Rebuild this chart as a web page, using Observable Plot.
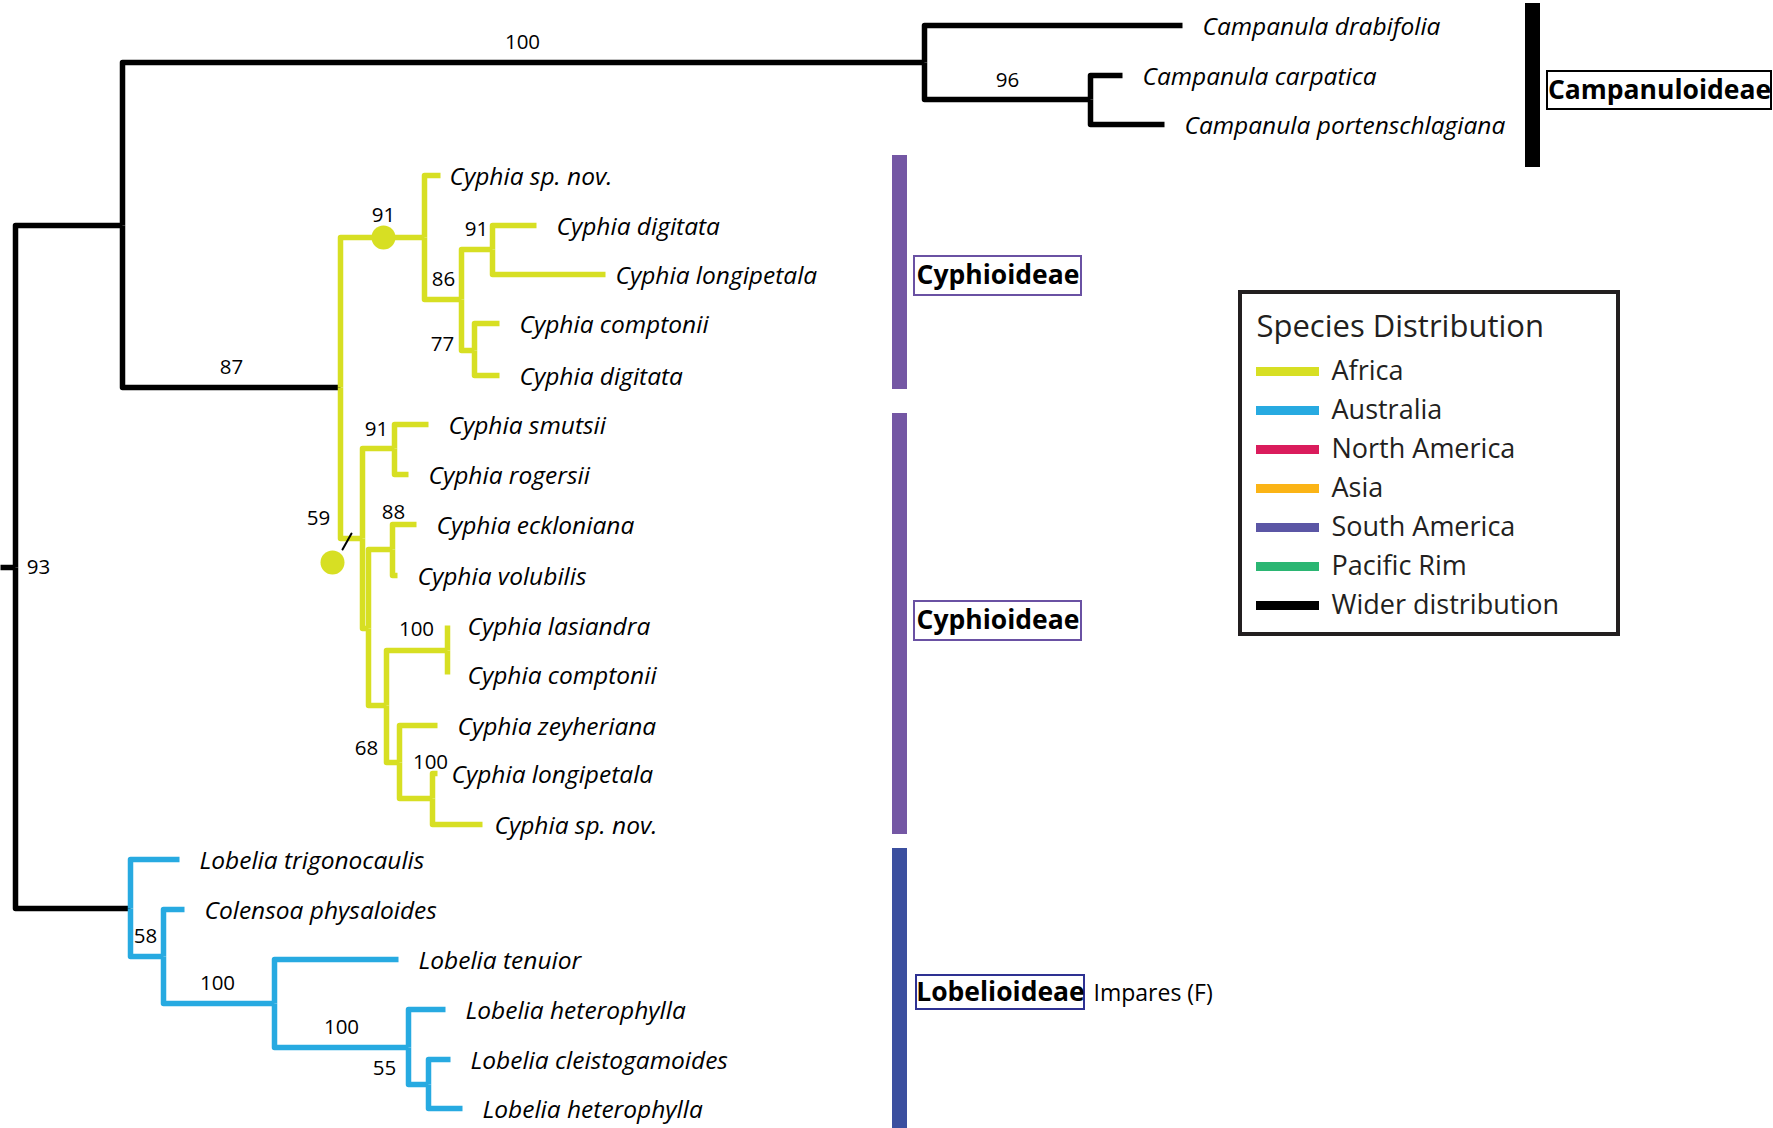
<!DOCTYPE html>
<html>
<head>
<meta charset="utf-8">
<script src="https://cdn.jsdelivr.net/npm/d3@7"></script>
<script src="https://cdn.jsdelivr.net/npm/@observablehq/plot@0.6"></script>
<style>
  html, body { margin: 0; padding: 0; background: #fff; }
  #chart svg { display: block; }
</style>
</head>
<body>
<div id="chart"></div>
<script>
// ---------- DATA ----------
// Distribution categories (legend) and their colours
const regions = ["Africa", "Australia", "North America", "Asia", "South America", "Pacific Rim", "Wider distribution"];
const regionColors = ["#d7df23", "#27aae1", "#da1c5c", "#fbb416", "#5b56a5", "#2bb673", "#000000"];

// Tree: [id, parent, depth, row, distribution of the branch leading to it, taxon name]
const tree = [
  ["stem", null, 0, 567, "Wider distribution", null],
  ["root", "stem", 15, 567, "Wider distribution", null],
  ["A", "root", 122, 225, "Wider distribution", null],
  ["CAMP", "A", 924, 62, "Wider distribution", null],
  ["t1", "CAMP", 1182, 25, "Wider distribution", "Campanula drabifolia"],
  ["N96", "CAMP", 1090, 99, "Wider distribution", null],
  ["t2", "N96", 1122, 75, "Wider distribution", "Campanula carpatica"],
  ["t3", "N96", 1164, 124, "Wider distribution", "Campanula portenschlagiana"],
  ["CYP", "A", 340, 387, "Wider distribution", null],
  ["N91a", "CYP", 424, 237, "Africa", null],
  ["t4", "N91a", 440, 175, "Africa", "Cyphia sp. nov."],
  ["N86", "N91a", 461, 299, "Africa", null],
  ["N91b", "N86", 492, 249, "Africa", null],
  ["t5", "N91b", 536, 225, "Africa", "Cyphia digitata"],
  ["t6", "N91b", 605, 274, "Africa", "Cyphia longipetala"],
  ["N77", "N86", 474, 350, "Africa", null],
  ["t7", "N77", 499, 323, "Africa", "Cyphia comptonii"],
  ["t8", "N77", 499, 375, "Africa", "Cyphia digitata"],
  ["N59", "CYP", 362, 538, "Africa", null],
  ["N91c", "N59", 394, 448, "Africa", null],
  ["t9", "N91c", 428, 424, "Africa", "Cyphia smutsii"],
  ["t10", "N91c", 408, 474, "Africa", "Cyphia rogersii"],
  ["NB", "N59", 368, 628, "Africa", null],
  ["N88", "NB", 392, 549, "Africa", null],
  ["t11", "N88", 416, 524, "Africa", "Cyphia eckloniana"],
  ["t12", "N88", 397, 575, "Africa", "Cyphia volubilis"],
  ["N68", "NB", 386, 705, "Africa", null],
  ["N100a", "N68", 447, 650, "Africa", null],
  ["t13", "N100a", 447, 625, "Africa", "Cyphia lasiandra"],
  ["t14", "N100a", 447, 674, "Africa", "Cyphia comptonii"],
  ["NZ", "N68", 399, 762, "Africa", null],
  ["t15", "NZ", 437, 725, "Africa", "Cyphia zeyheriana"],
  ["N100b", "NZ", 432, 798, "Africa", null],
  ["t16", "N100b", 437, 773, "Africa", "Cyphia longipetala"],
  ["t17", "N100b", 482, 824, "Africa", "Cyphia sp. nov."],
  ["LOB", "root", 130, 908, "Wider distribution", null],
  ["t18", "LOB", 179, 859, "Australia", "Lobelia trigonocaulis"],
  ["N58", "LOB", 163, 956, "Australia", null],
  ["t19", "N58", 184, 909, "Australia", "Colensoa physaloides"],
  ["N100c", "N58", 274, 1003, "Australia", null],
  ["t20", "N100c", 398, 959, "Australia", "Lobelia tenuior"],
  ["N100d", "N100c", 408, 1047, "Australia", null],
  ["t21", "N100d", 445, 1009, "Australia", "Lobelia heterophylla"],
  ["N55", "N100d", 428, 1084, "Australia", null],
  ["t22", "N55", 450, 1059, "Australia", "Lobelia cleistogamoides"],
  ["t23", "N55", 462, 1108, "Australia", "Lobelia heterophylla"]
];

// Label start depth where the name is not set off by the usual gap: [leaf id, depth]
const labelStarts = [["t4", 449], ["t6", 615], ["t16", 451], ["t17", 494]];

// Bootstrap support values: [value, depth, row] where they are printed
const supportValues = [
  [100, 522, 42], [96, 1007, 80], [87, 231, 367], [91, 383, 215], [91, 476, 229],
  [86, 443, 279], [77, 442, 344], [59, 318, 518], [91, 376, 429], [88, 393, 512],
  [100, 416, 629], [68, 366, 748], [100, 430, 762], [93, 38, 567], [58, 145, 936],
  [100, 217, 983], [100, 341, 1027], [55, 384, 1068]
];

// Filled node markers [depth, row] and the pointer stroke next to the lower one
const nodeMarkers = [[383, 237], [332, 562]];
const pointerStroke = [[342, 549], [351, 533]];

// Subfamily bars: [name, depth, rowStart, rowEnd]
const cladeBars = [
  ["Campanuloideae", 1532, 3, 167],
  ["Cyphioideae", 899, 155, 389],
  ["Cyphioideae", 899, 413, 834],
  ["Lobelioideae", 899, 848, 1128]
];
const cladeBarColors = ["#000000", "#7457a4", "#7457a4", "#3b4f9f"];

// Subfamily labels: [name, depthLeft, depthRight, rowTop, rowBottom]
const cladeLabels = [
  ["Campanuloideae", 1547, 1771, 71, 109],
  ["Cyphioideae", 914, 1081, 256, 295],
  ["Cyphioideae", 914, 1081, 601, 640],
  ["Lobelioideae", 916, 1084, 975, 1009]
];
const cladeLabelColors = ["#000000", "#6a51a3", "#6a51a3", "#2e3192"];
const notes = [["Impares (F)", 1093, 993]];

// ---------- LAYOUT ----------
const W = 1773, H = 1128;
const legendBox = {x1: 1240, x2: 1618, y1: 292, y2: 634, titleY: 327, firstY: 371, step: 39, swatchX1: 1256, swatchX2: 1319, textX: 1331};
const FONT = "'Open Sans', 'DejaVu Sans', sans-serif";
const LABEL_GAP = 20;

// ---------- BUILD ----------
const colorOf = new Map(regions.map((r, i) => [r, regionColors[i]]));
const nodes = tree.map(([id, parent, depth, row, region, name]) => ({id, parent, depth, row, region, name}));
const byId = new Map(nodes.map(n => [n.id, n]));
const edges = [];
for (const n of nodes) {
  if (!n.parent) continue;
  const p = byId.get(n.parent);
  const c = colorOf.get(n.region);
  edges.push({id: n.id, c, x: p.depth, y: p.row});
  edges.push({id: n.id, c, x: p.depth, y: n.row});
  edges.push({id: n.id, c, x: n.depth, y: n.row});
}
const labelStartMap = new Map(labelStarts);
const leaves = nodes.filter(n => n.name).map(n => ({...n, lx: labelStartMap.has(n.id) ? labelStartMap.get(n.id) : n.depth + LABEL_GAP}));
const supports = supportValues.map(([v, x, y]) => ({v: String(v), x, y}));
const bars = cladeBars.map(([name, x, y1, y2], i) => ({name, x, y1, y2, c: cladeBarColors[i]}));
const labels = cladeLabels.map(([name, x1, x2, y1, y2], i) => ({name, x1, x2, y1, y2, c: cladeLabelColors[i]}));
const legendRows = regions.map((r, i) => ({r, c: regionColors[i], y: legendBox.firstY + i * legendBox.step}));

const chart = Plot.plot({
  width: W,
  height: H,
  margin: 0,
  x: {domain: [0, W], range: [0, W], axis: null},
  y: {domain: [0, H], range: [0, H], axis: null},
  color: {type: "identity"},
  style: {fontFamily: FONT, background: "#fff"},
  marks: [
    // subfamily bars
    Plot.ruleX(bars, {x: "x", y1: "y1", y2: "y2", stroke: "c", strokeWidth: 15}),
    // tree branches
    Plot.line(edges, {x: "x", y: "y", z: "id", stroke: "c", strokeWidth: 5.5, strokeLinejoin: "round", strokeLinecap: "butt", curve: "linear"}),
    // node markers
    Plot.line(pointerStroke, {x: d => d[0], y: d => d[1], stroke: "#000", strokeWidth: 2}),
    Plot.dot(nodeMarkers, {x: d => d[0], y: d => d[1], r: 12, fill: regionColors[0], stroke: "none"}),
    // support values
    Plot.text(supports, {x: "x", y: "y", text: "v", fontSize: 20.5, fill: "#000", fontFamily: FONT}),
    // taxon labels
    Plot.text(leaves, {x: "lx", y: "row", text: "name", dy: 2, textAnchor: "start", fontStyle: "italic", fontSize: 24.5, fill: "#000", fontFamily: FONT}),
    // subfamily label boxes
    Plot.rect(labels, {x1: "x1", x2: "x2", y1: "y1", y2: "y2", fill: "#fff", stroke: "c", strokeWidth: 2}),
    Plot.text(labels, {x: d => (d.x1 + d.x2) / 2, y: d => (d.y1 + d.y2) / 2, text: "name", fontWeight: 700, fontSize: 26.5, fill: "#000", fontFamily: FONT}),
    Plot.text(notes, {x: d => d[1], y: d => d[2], text: d => d[0], textAnchor: "start", fontSize: 23, fontWeight: 500, fill: "#000", fontFamily: FONT}),
    // legend
    Plot.rect([legendBox], {x1: "x1", x2: "x2", y1: "y1", y2: "y2", fill: "none", stroke: "#231f20", strokeWidth: 4}),
    Plot.text([legendBox], {x: "swatchX1", y: "titleY", text: () => "Species Distribution", textAnchor: "start", fontSize: 31, fill: "#231f20", fontFamily: FONT}),
    Plot.ruleY(legendRows, {y: "y", x1: () => legendBox.swatchX1, x2: () => legendBox.swatchX2, stroke: "c", strokeWidth: 9}),
    Plot.text(legendRows, {x: () => legendBox.textX, y: "y", text: "r", textAnchor: "start", fontSize: 27, fill: "#231f20", fontFamily: FONT})
  ]
});
document.getElementById("chart").appendChild(chart);
</script>
</body>
</html>
